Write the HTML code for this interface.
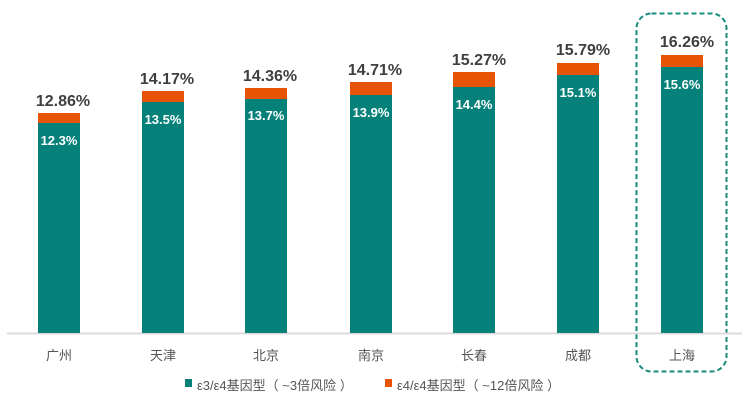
<!DOCTYPE html>
<html><head><meta charset="utf-8"><style>
body{margin:0;background:#fff;}
svg text{font-family:"Liberation Sans","Noto Sans CJK SC",sans-serif;}
</style></head><body>
<svg width="750" height="404" viewBox="0 0 750 404" xmlns="http://www.w3.org/2000/svg">
<rect width="750" height="404" fill="#fff"/>
<rect x="636.5" y="13.5" width="90" height="358" rx="15" fill="none" stroke="#1a8a7c" stroke-width="2" stroke-dasharray="5,3"/>
<line x1="7" y1="333.5" x2="742" y2="333.5" stroke="#dcdcdc" stroke-width="2"/>
<g fill="#06817a">
<rect x="38" y="123" width="42" height="210"/>
<rect x="142" y="102" width="42" height="231"/>
<rect x="245" y="99" width="42" height="234"/>
<rect x="350" y="95" width="42" height="238"/>
<rect x="453" y="87" width="42" height="246"/>
<rect x="557" y="75" width="42" height="258"/>
<rect x="661" y="67" width="42" height="266"/>
</g>
<g fill="#e85405">
<rect x="38" y="113" width="42" height="10"/>
<rect x="142" y="91" width="42" height="11"/>
<rect x="245" y="88" width="42" height="11"/>
<rect x="350" y="82" width="42" height="13"/>
<rect x="453" y="72" width="42" height="15"/>
<rect x="557" y="63" width="42" height="12"/>
<rect x="661" y="55" width="42" height="12"/>
</g>
<g fill="#fff" font-size="13" font-weight="bold" text-anchor="middle">
<text x="59" y="145">12.3%</text>
<text x="163" y="124">13.5%</text>
<text x="266" y="120">13.7%</text>
<text x="371" y="117">13.9%</text>
<text x="474" y="109">14.4%</text>
<text x="578" y="97">15.1%</text>
<text x="682" y="89">15.6%</text>
</g>
<g fill="#3f3f3f" font-size="16" font-weight="bold" text-anchor="middle">
<text x="63" y="106">12.86%</text>
<text x="167" y="84">14.17%</text>
<text x="270" y="81">14.36%</text>
<text x="375" y="75">14.71%</text>
<text x="479" y="65">15.27%</text>
<text x="583" y="55">15.79%</text>
<text x="687" y="47">16.26%</text>
</g>
<g fill="#555" font-size="13" text-anchor="middle">
<text x="59" y="360">广州</text>
<text x="163" y="360">天津</text>
<text x="266" y="360">北京</text>
<text x="371" y="360">南京</text>
<text x="474" y="360">长春</text>
<text x="578" y="360">成都</text>
<text x="682" y="360">上海</text>
</g>
<rect x="185" y="379" width="7" height="8" fill="#06817a"/>
<text x="197" y="390" font-size="13" fill="#555">ε3/ε4基因型（ ~3倍风险 ）</text>
<rect x="385" y="379" width="7" height="8" fill="#e85405"/>
<text x="397" y="390" font-size="13" fill="#555">ε4/ε4基因型（ ~12倍风险 ）</text>
</svg>
</body></html>
